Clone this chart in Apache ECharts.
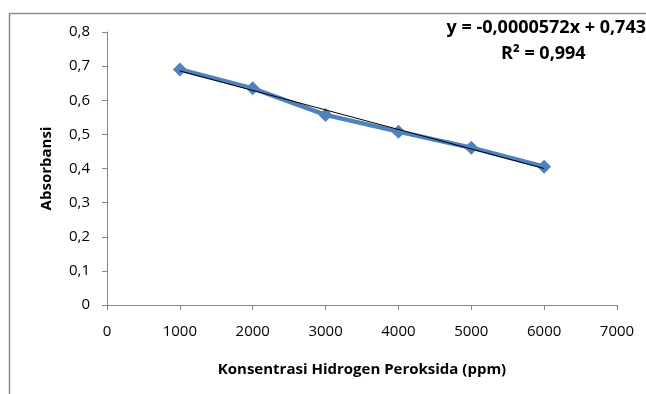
<!DOCTYPE html>
<html>
<head>
<meta charset="utf-8">
<script src="https://cdn.jsdelivr.net/npm/echarts@6/dist/echarts.min.js"></script>
<style>html,body{margin:0;padding:0;background:#fff}#c{width:646px;height:394px}</style>
</head>
<body>
<div id="c"></div>
<script>
var concentrations = [1000, 2000, 3000, 4000, 5000, 6000];
var absorbance = [0.690, 0.635, 0.557, 0.508, 0.461, 0.405];
var trendX = [1000, 6000];
var trendY = [0.686, 0.400];
var equationText = 'y = -0,0000572x + 0,743';
var r2Text = 'R² = 0,994';
var xTitle = 'Konsentrasi Hidrogen Peroksida (ppm)';
var yTitle = 'Absorbansi';

var font = '"Open Sans", "Noto Sans", sans-serif';
var chart = echarts.init(document.getElementById('c'), null, {renderer: 'canvas'});
chart.setOption({
  animation: false,
  backgroundColor: '#fff',
  grid: {left: 107, right: 29, top: 32, bottom: 89, containLabel: false},
  xAxis: {
    type: 'value', min: 0, max: 7000, interval: 1000,
    name: xTitle, nameLocation: 'middle', nameGap: 57,
    nameTextStyle: {fontFamily: font, fontWeight: 'bold', fontSize: 15, color: '#000'},
    axisLine: {show: true, onZero: false, lineStyle: {color: '#868686', width: 1}},
    axisTick: {show: true, length: 5, inside: false, lineStyle: {color: '#868686'}},
    axisLabel: {fontFamily: font, fontSize: 15, color: '#000', margin: 19,
      formatter: function (v) { return String(v); }},
    splitLine: {show: false}
  },
  yAxis: {
    type: 'value', min: 0, max: 0.8, interval: 0.1,
    name: yTitle, nameLocation: 'middle', nameGap: 53, nameRotate: 90,
    nameTextStyle: {fontFamily: font, fontWeight: 'bold', fontSize: 15, color: '#000'},
    axisLine: {show: true, lineStyle: {color: '#868686', width: 1}},
    axisTick: {show: true, length: 5, inside: false, lineStyle: {color: '#868686'}},
    axisLabel: {fontFamily: font, fontSize: 15, color: '#000', margin: 17,
      formatter: function (v) { return String(Math.round(v * 10) / 10).replace('.', ','); }},
    splitLine: {show: false}
  },
  series: [
    {
      type: 'line',
      data: concentrations.map(function (x, i) { return [x, absorbance[i]]; }),
      lineStyle: {color: '#4F81BD', width: 4.5},
      itemStyle: {color: '#4F81BD'},
      symbol: 'diamond', symbolSize: 14, showSymbol: true,
      z: 2
    },
    {
      type: 'line',
      data: trendX.map(function (x, i) { return [x, trendY[i]]; }),
      lineStyle: {color: '#000', width: 1},
      symbol: 'none',
      z: 3
    }
  ],
  graphic: [
    {type: 'rect', shape: {x: 9.5, y: 13.5, width: 700, height: 500},
     style: {fill: 'none', stroke: '#8c8c8c', lineWidth: 1.5}, silent: true, z: -1},
    {type: 'text', right: 0, top: 19,
     style: {text: equationText, font: 'bold 18px ' + font, fill: '#000'}},
    {type: 'text', left: 501, top: 45,
     style: {text: r2Text, font: 'bold 18px ' + font, fill: '#000'}}
  ]
});
</script>
</body>
</html>
